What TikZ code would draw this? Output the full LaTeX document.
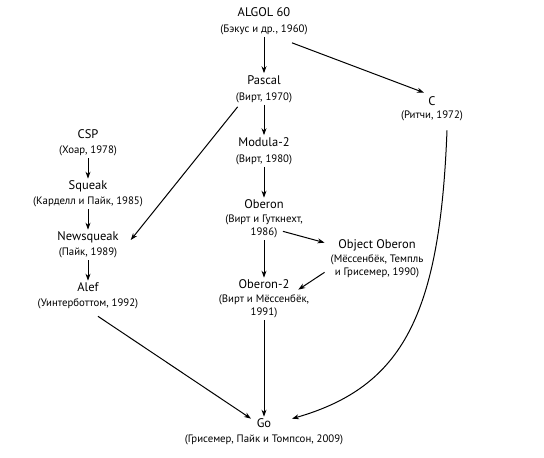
\documentclass[tikz,border=0pt]{standalone}
\usepackage{fontspec}
\setmainfont{PT Sans}
\usetikzlibrary{calc,arrows.meta}
\newcommand{\yr}[1]{{\fontsize{10.8}{13}\selectfont #1}}
\tikzstyle{lang} = [align=center, inner sep=2pt, font=\fontsize{12.5}{13}\selectfont]
\tikzstyle{arrow} = [line width=1pt,-{Stealth[length=7pt,width=5pt]}]

\begin{document}
\begin{tikzpicture}[x=1pt, y=1pt, node distance=51pt]
      \useasboundingbox (0,0) rectangle (544,-458);
      % main column
      \node (algol)[lang] at (264,-21) {ALGOL 60\\[3pt]\yr{(Бэкус и др., 1960)}};
      \node (pascal)[lang, below of=algol, yshift=-17pt]{Pascal\\[3pt]\yr{(Вирт, 1970)}};
      \node (modula)[lang, below of=pascal, yshift=-11pt]{Modula-2\\[3pt]\yr{(Вирт, 1980)}};
      \node (oberon)[lang, below of=modula, yshift=-17pt]{Oberon\\[1pt]\yr{(Вирт и Гуткнехт,}\\\yr{1986)}};
      \node (oberon2)[lang, below of=oberon, yshift=-29pt]{Oberon-2\\[1pt]\yr{(Вирт и Мёссенбёк,}\\\yr{1991)}};
      \node (go)[lang, below of=oberon2, yshift=-82pt]{Go\\[2pt]\yr{(Грисемер, Пайк и Томпсон, 2009)}};
      \node (objob)[lang] at (377,-259) {Object Oberon\\[1pt]\yr{(Мёссенбёк, Темпль}\\\yr{и Грисемер, 1990)}};
      \node (c)[lang] at (432,-109) {C\\[0pt]\yr{(Ритчи, 1972)}};
      % left column
      \node (csp)[lang] at (88,-143) {CSP\\[2pt]\yr{(Хоар, 1978)}};
      \node (squeak)[lang, below of=csp]{Squeak\\[2pt]\yr{(Карделл и Пайк, 1985)}};
      \node (newsq)[lang, below of=squeak]{Newsqueak\\[2pt]\yr{(Пайк, 1989)}};
      \node (alef)[lang, below of=newsq]{Alef\\[2pt]\yr{(Уинтерботтом, 1992)}};
      \draw[arrow] (algol)--(pascal);
      \draw[arrow] ([xshift=28pt,yshift=-6pt]algol.south)--([shift={(-8pt,2pt)}]c.north);
      \draw[arrow] (pascal)--(modula);
      \draw[arrow] ([shift={(4pt,-2pt)}]pascal.south west)--([shift={(10pt,5pt)}]newsq.east);
      \draw[arrow] (modula)--(oberon);
      \draw[arrow] ([shift={(-22pt,9pt)}]oberon.south east)--([shift={(-4pt,-5pt)}]objob.north west);
      \draw[arrow] ([shift={(-4pt,8pt)}]objob.south west)--([shift={(-13pt,-12pt)}]oberon2.north east);
      \draw[arrow] (oberon)--(oberon2);
      \draw[arrow] (csp)--(squeak);
      \draw[arrow] (squeak)--(newsq);
      \draw[arrow] (newsq)--(alef);
      \draw[arrow] (oberon2)--(go);
      \draw[arrow] ([shift={(10pt,-5pt)}]alef.south)--([shift={(-13pt,-2pt)}]go.north);
      \draw[arrow] ([shift={(15pt,-7pt)}]c.south) .. controls ($(c.south)+(8pt,-190pt)$) and ($(go.north)+(140pt,30pt)$) .. ([shift={(28pt,-2pt)}]go.north);
    \end{tikzpicture}
\end{document}
